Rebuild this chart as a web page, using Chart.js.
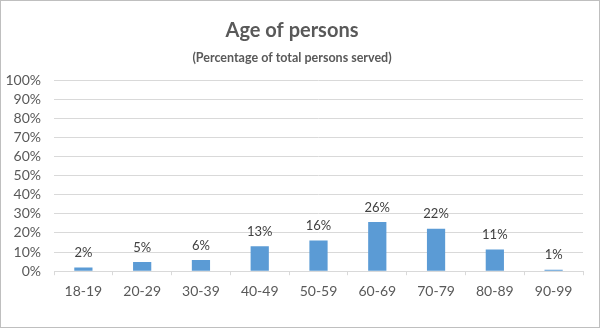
<!DOCTYPE html>
<html>
<head>
<meta charset="utf-8">
<script src="https://cdn.jsdelivr.net/npm/chart.js@4"></script>
<style>
  html, body { margin: 0; padding: 0; background: #ffffff; }
  #wrap { width: 600px; height: 328px; box-sizing: border-box; border: 1px solid #bfbfbf; }
</style>
</head>
<body>
<div id="wrap"><canvas id="ageChart" width="598" height="326"></canvas></div>
<script>
// data
const ageGroups = ["18-19", "20-29", "30-39", "40-49", "50-59", "60-69", "70-79", "80-89", "90-99"];
const percentValues = [1.9, 4.8, 5.9, 13, 16, 25.7, 22.2, 11.3, 0.8];
const percentLabels = ["2%", "5%", "6%", "13%", "16%", "26%", "22%", "11%", "1%"];
const yTicks = [0, 10, 20, 30, 40, 50, 60, 70, 80, 90, 100];

const FONT = "Lato, 'Liberation Sans', sans-serif";
const TEXT_COLOR = "#595959";

// labels above each bar
const barLabels = {
  id: "barLabels",
  afterDatasetsDraw(chart) {
    const ctx = chart.ctx;
    const meta = chart.getDatasetMeta(0);
    ctx.save();
    ctx.font = "13px " + FONT;
    ctx.fillStyle = "#404040";
    ctx.textAlign = "center";
    ctx.textBaseline = "bottom";
    meta.data.forEach((bar, i) => {
      ctx.fillText(percentLabels[i], bar.x, bar.y - 8);
    });
    ctx.restore();
  }
};

new Chart(document.getElementById("ageChart"), {
  type: "bar",
  data: {
    labels: ageGroups,
    datasets: [{
      data: percentValues,
      backgroundColor: "#5b9bd5",
      barPercentage: 0.31,
      categoryPercentage: 1
    }]
  },
  plugins: [barLabels],
  options: {
    responsive: false,
    animation: false,
    layout: {
      padding: { left: 0, right: 16, top: 0, bottom: 19 }
    },
    plugins: {
      legend: { display: false },
      tooltip: { enabled: false },
      title: {
        display: true,
        text: "Age of persons",
        color: TEXT_COLOR,
        font: { family: FONT, size: 20, weight: "bold" },
        padding: { top: 18, bottom: 7 }
      },
      subtitle: {
        display: true,
        text: "(Percentage of total persons served)",
        color: TEXT_COLOR,
        font: { family: FONT, size: 12.5, weight: "bold" },
        padding: { top: 0, bottom: 15 }
      }
    },
    scales: {
      x: {
        grid: {
          display: true,
          drawOnChartArea: false,
          drawTicks: true,
          tickLength: 4,
          color: "#d9d9d9"
        },
        border: { color: "#d9d9d9" },
        ticks: {
          color: TEXT_COLOR,
          font: { family: FONT, size: 14 },
          padding: 8
        }
      },
      y: {
        min: 0,
        max: 100,
        afterFit(scale) { scale.width = 53; },
        afterBuildTicks(scale) { scale.ticks = yTicks.map(v => ({ value: v })); },
        grid: { color: "#d9d9d9", drawTicks: false },
        border: { display: false },
        ticks: {
          autoSkip: false,
          color: TEXT_COLOR,
          font: { family: FONT, size: 14 },
          padding: 13,
          callback: v => v + "%"
        }
      }
    }
  }
});
</script>
</body>
</html>
